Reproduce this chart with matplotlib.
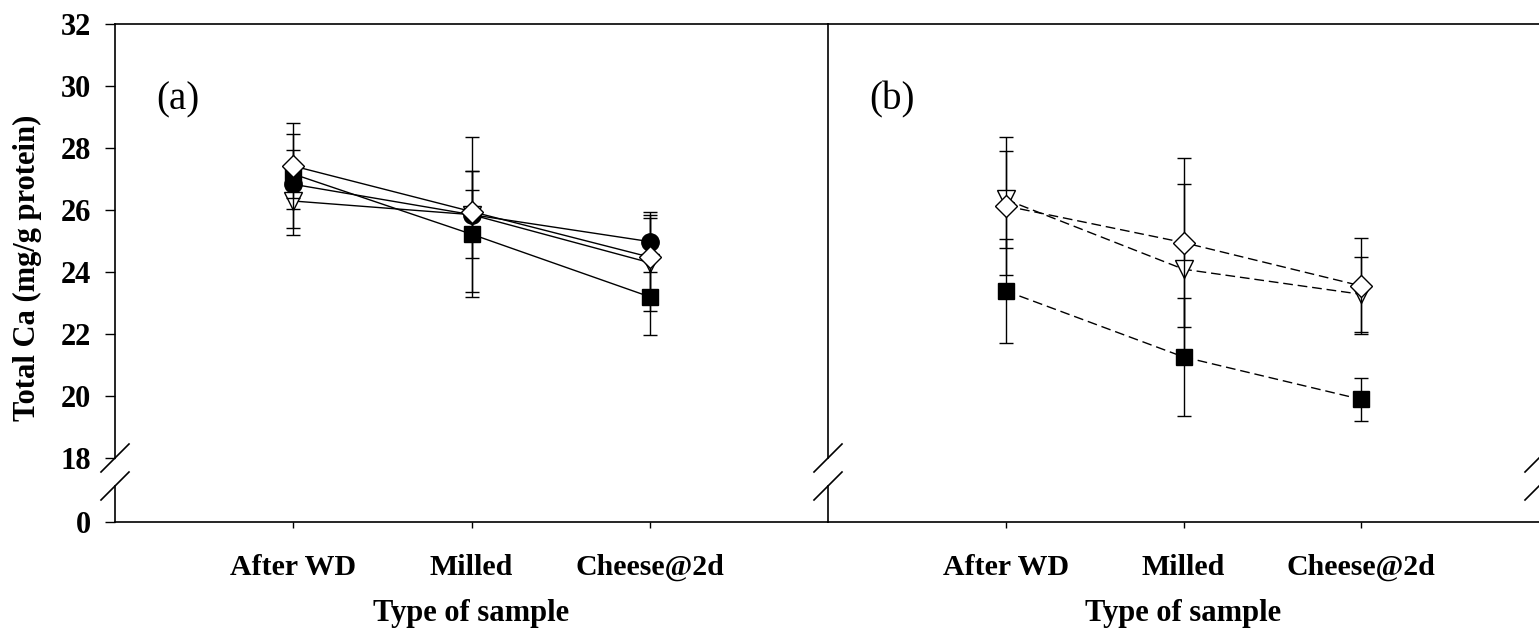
import matplotlib.pyplot as plt
from matplotlib.lines import Line2D

# 字体: Times 风格粗体
plt.rcParams['font.family'] = ['Liberation Serif', 'DejaVu Serif']
plt.rcParams['font.weight'] = 'bold'

# 数据
samples = ["After WD", "Milled", "Cheese@2d"]
xpos = [1, 2, 3]

# (a) 四组, 实线
a_circle = [26.83, 25.85, 24.98]
a_circle_err = [1.63, 2.50, 0.97]
a_tri = [26.29, 25.85, 24.30]
a_tri_err = [0.88, 1.40, 1.55]
a_square = [27.16, 25.22, 23.20]
a_square_err = [0.77, 2.04, 1.23]
a_diamond = [27.42, 25.95, 24.48]
a_diamond_err = [1.38, 0.69, 1.25]

# (b) 三组, 虚线
b_tri = [26.34, 24.09, 23.28]
b_tri_err = [1.55, 2.74, 1.22]
b_square = [23.39, 21.26, 19.89]
b_square_err = [1.67, 1.90, 0.69]
b_diamond = [26.13, 24.95, 23.55]
b_diamond_err = [2.24, 2.72, 1.56]

W, H = 1539, 635
fig = plt.figure(figsize=(W / 100, H / 100), dpi=100)

# 坐标区位置 (像素 -> 比例)
x_l, x_m, x_r = 115 / W, 828 / W, 1.0
up_b, up_t = 1 - 458 / H, 1 - 24 / H
lo_b, lo_t = 1 - 522 / H, 1 - 486 / H

ax_a = fig.add_axes([x_l, up_b, x_m - x_l, up_t - up_b])
ax_a0 = fig.add_axes([x_l, lo_b, x_m - x_l, lo_t - lo_b])
ax_b = fig.add_axes([x_m, up_b, x_r - x_m, up_t - up_b])
ax_b0 = fig.add_axes([x_m, lo_b, x_r - x_m, lo_t - lo_b])

style = dict(color='black', lw=1, elinewidth=1, capsize=5, capthick=1, mec='black', mew=1)


def draw(ax, y, err, marker, fc, ms, ls, z):
    ax.errorbar(xpos, y, yerr=err, marker=marker, mfc=fc, ms=ms, ls=ls, zorder=z, **style)


# (a)
draw(ax_a, a_circle, a_circle_err, 'o', 'black', 12.5, '-', 3)
draw(ax_a, a_tri, a_tri_err, 'v', 'white', 13, '-', 4)
draw(ax_a, a_square, a_square_err, 's', 'black', 12, '-', 5)
draw(ax_a, a_diamond, a_diamond_err, 'D', 'white', 11, '-', 6)

# (b)
dash = (0, (7, 3.5))
draw(ax_b, b_tri, b_tri_err, 'v', 'white', 13, dash, 4)
draw(ax_b, b_square, b_square_err, 's', 'black', 12, dash, 5)
draw(ax_b, b_diamond, b_diamond_err, 'D', 'white', 11, dash, 6)

for ax in (ax_a, ax_b):
    ax.set_xlim(0, 4)
    ax.set_ylim(18, 32)
    ax.spines['bottom'].set_visible(False)
    ax.spines['right'].set_visible(False)
    ax.tick_params(bottom=False, labelbottom=False)

for ax in (ax_a0, ax_b0):
    ax.set_xlim(0, 4)
    ax.set_ylim(0, 1)
    ax.set_yticks([0])
    ax.spines['top'].set_visible(False)
    ax.spines['right'].set_visible(False)
    ax.set_xticks(xpos)
    ax.set_xticklabels(samples, fontsize=21.5, fontweight='bold')
    ax.tick_params(axis='x', direction='out', length=4, width=1, pad=19)
    ax.set_xlabel("Type of sample", fontsize=22, fontweight='bold', labelpad=13)
    ax.patch.set_alpha(0)

ax_a.set_yticks(range(18, 33, 2))
for ax in (ax_a, ax_a0):
    ax.tick_params(axis='y', direction='out', length=7, width=1, pad=10, labelsize=22)

for ax in (ax_b, ax_b0):
    ax.tick_params(axis='y', left=False, labelleft=False)

for ax in (ax_a, ax_a0, ax_b, ax_b0):
    for s in ax.spines.values():
        s.set_linewidth(1.2)

# 面板标记
ax_a.text(0.088, 0.825, "(a)", transform=ax_a.transAxes, fontsize=28,
          fontweight='normal', ha='center', va='center')
ax_b.text(0.09, 0.825, "(b)", transform=ax_b.transAxes, fontsize=28,
          fontweight='normal', ha='center', va='center')

# y 轴标签
fig.text(27 / W, 1 - 268 / H, "Total Ca (mg/g protein)", rotation=90,
         fontsize=22, fontweight='bold', ha='center', va='center')

# 断轴斜线
for xp in (115, 828, 1539):
    for yp in (458, 486):
        fig.add_artist(Line2D([(xp - 14) / W, (xp + 14) / W],
                              [1 - (yp + 14) / H, 1 - (yp - 14) / H],
                              transform=fig.transFigure, color='black', lw=1.2))

plt.savefig("out.png", dpi=100)
